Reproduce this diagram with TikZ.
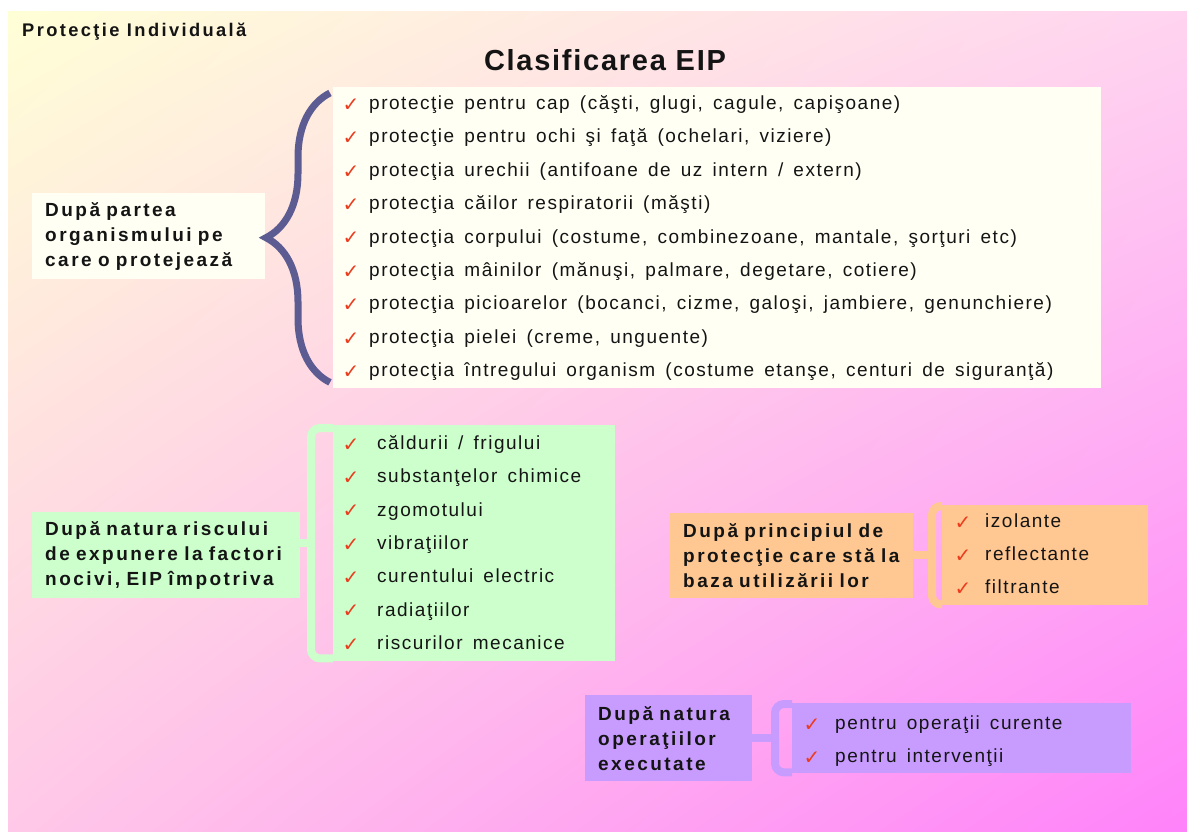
\documentclass[tikz,border=0pt]{standalone}
\usepackage{fontspec}
\usepackage{xcolor}
\setmainfont{Liberation Sans}
\newfontfamily\symfont{DejaVu Sans}
\newfontfamily\headfont[LetterSpace=13]{Liberation Sans}
\newfontfamily\titlefont[LetterSpace=6]{Liberation Sans}
\newfontfamily\listfont[LetterSpace=8,WordSpace=1.5]{Liberation Sans}
\usetikzlibrary{decorations.pathreplacing,shadings}

\definecolor{bgUL}{RGB}{255,255,214}
\definecolor{bgUR}{RGB}{255,212,240}
\definecolor{bgLL}{RGB}{255,200,232}
\definecolor{bgLR}{RGB}{255,130,250}
\definecolor{creamfill}{RGB}{255,255,244}
\definecolor{greenfill}{RGB}{204,255,204}
\definecolor{orangefill}{RGB}{255,200,146}
\definecolor{purplefill}{RGB}{200,156,255}
\definecolor{bracecol}{RGB}{92,92,146}
\definecolor{chkred}{RGB}{236,60,30}
\definecolor{inkcol}{RGB}{20,20,20}

\newcommand{\chkmark}{{\symfont\char"2713}}

\begin{document}
\begin{tikzpicture}[x=1pt,y=-1pt,
    headbox/.style={fill=#1,anchor=north west,align=left,inner xsep=0pt,
        inner ysep=0pt,text=inkcol,execute at begin node={\leftskip=13pt},
        font=\headfont\bfseries\fontsize{19}{25}\selectfont},
    listbox/.style={fill=#1,anchor=north west,inner sep=0pt},
    chk/.style={text=chkred,inner sep=0pt,font=\fontsize{20}{20}\selectfont},
    itemtxt/.style={anchor=west,inner sep=0pt,text=inkcol,text height=14pt,
        text depth=5pt,font=\listfont\fontsize{19}{22}\selectfont},
    curlybrace/.style={draw=bracecol,line width=7pt,decorate,
        decoration={brace,amplitude=64pt}},
    bracketline/.style={draw=#1,line width=8pt,rounded corners=9pt}]
    \useasboundingbox (0,0) rectangle (1187,832);
    \shade[upper left=bgUL,upper right=bgUR,lower left=bgLL,lower right=bgLR]
        (8,12) rectangle (1187,832);

    \node[anchor=west,inner sep=0pt,text=inkcol,
        font=\headfont\bfseries\fontsize{18.3}{19}\selectfont] (top) at (22,32) {Protecţie Individuală};
    \node[inner sep=0pt,text=inkcol,
        font=\titlefont\bfseries\fontsize{29}{29}\selectfont] (title) at (605,60) {Clasificarea EIP};

    % partea organismului
    \node[listbox=creamfill,minimum width=768pt,minimum height=301pt] (parts) at (333,87) {};
    \node[headbox=creamfill,text width=233pt,minimum height=86pt] (partshead) at (32,193)
        {După partea\\organismului pe\\care o protejează};
    \foreach \t [count=\i] in {{protecţie pentru cap (căşti, glugi, cagule, capişoane)},
        {protecţie pentru ochi şi faţă (ochelari, viziere)},
        {protecţia urechii (antifoane de uz intern / extern)},
        {protecţia căilor respiratorii (măşti)},
        {protecţia corpului (costume, combinezoane, mantale, şorţuri etc)},
        {protecţia mâinilor (mănuşi, palmare, degetare, cotiere)},
        {protecţia picioarelor (bocanci, cizme, galoşi, jambiere, genunchiere)},
        {protecţia pielei (creme, unguente)},
        {protecţia întregului organism (costume etanşe, centuri de siguranţă)}}
    {
        \node[chk] (ca\i) at (351,{105+33.4*(\i-1)}) {\chkmark};
        \node[itemtxt] (a\i) at (369,{105+33.4*(\i-1)}) {\t};
    }
    \draw[curlybrace] ([xshift=-3pt,yshift=6pt]parts.south west) -- ([xshift=-3pt,yshift=-6pt]parts.north west);

    % natura riscului
    \node[listbox=greenfill,minimum width=282pt,minimum height=236pt] (risk) at (333,425) {};
    \node[headbox=greenfill,text width=268pt,minimum height=86pt] (riskhead) at (32,512)
        {După natura riscului\\de expunere la factori\\nocivi, EIP împotriva};
    \foreach \t [count=\i] in {căldurii / frigului,substanţelor chimice,zgomotului,
        vibraţiilor,curentului electric,radiaţiilor,riscurilor mecanice}
    {
        \node[chk] (cb\i) at (351,{445+33.3*(\i-1)}) {\chkmark};
        \node[itemtxt] (b\i) at (377,{445+33.3*(\i-1)}) {\t};
    }
    \draw[bracketline=greenfill] ([yshift=-3pt]risk.north west) -- ++(-22,0) |- ([yshift=3pt]risk.south west);
    \draw[bracketline=greenfill] (riskhead.east |- risk.west) -- ++(13,0);

    % principiul de protectie
    \node[listbox=orangefill,minimum width=206pt,minimum height=100pt] (princ) at (942,505) {};
    \node[headbox=orangefill,text width=243pt,minimum height=85pt] (princhead) at (670,513)
        {După principiul de\\protecţie care stă la\\baza utilizării lor};
    \foreach \t [count=\i] in {izolante,reflectante,filtrante}
    {
        \node[chk] (cc\i) at (963,{523+33*(\i-1)}) {\chkmark};
        \node[itemtxt] (c\i) at (985,{523+33*(\i-1)}) {\t};
    }
    \draw[bracketline=orangefill] ([yshift=-1pt]princ.north west) -- ++(-10,0) |- ([yshift=1pt]princ.south west);
    \draw[bracketline=orangefill] (princhead.east |- princ.west) -- ++(22,0);

    % natura operatiilor
    \node[listbox=purplefill,minimum width=339pt,minimum height=70pt] (oper) at (792,703) {};
    \node[headbox=purplefill,text width=167pt,minimum height=86pt] (operhead) at (585,695)
        {După natura\\operaţiilor\\executate};
    \foreach \t [count=\i] in {pentru operaţii curente,pentru intervenţii}
    {
        \node[chk] (cd\i) at (812,{725+33*(\i-1)}) {\chkmark};
        \node[itemtxt] (d\i) at (835,{725+33*(\i-1)}) {\t};
    }
    \draw[bracketline=purplefill] ([yshift=-1pt]oper.north west) -- ++(-17,0) |- ([yshift=1pt]oper.south west);
    \draw[bracketline=purplefill] (operhead.east |- oper.west) -- ++(26,0);
\end{tikzpicture}
\end{document}
